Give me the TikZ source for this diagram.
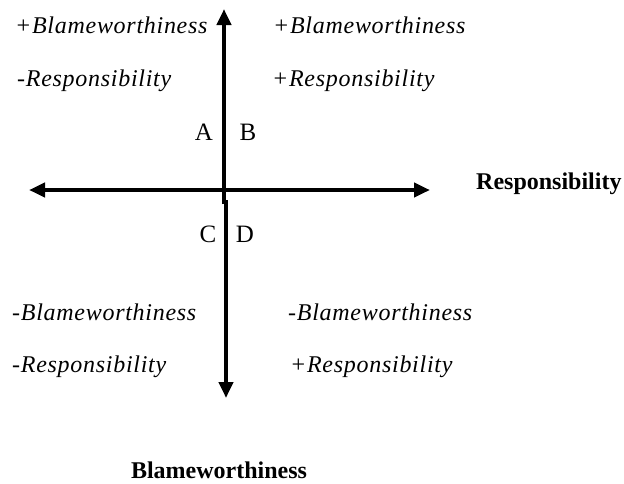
\documentclass[tikz,border=0pt]{standalone}
\usepackage{fontspec}
\setmainfont{Liberation Serif}
\newfontfamily\quadfont[LetterSpace=3]{Liberation Serif}
\usetikzlibrary{arrows.meta}

\begin{document}
\begin{tikzpicture}[x=1pt, y=-1pt,
  axis/.style={line width=4pt, -{Triangle[length=16pt, width=14pt]}},
  quad/.style={anchor=base west, inner sep=0pt, font=\fontsize{24}{28}\quadfont\itshape},
  letter/.style={anchor=base, inner sep=0pt, font=\fontsize{25}{30}\selectfont},
  title/.style={inner sep=0pt, font=\fontsize{24}{28}\selectfont\bfseries}]
  \useasboundingbox (0,0) rectangle (624,483);
  % axes
  \coordinate (west) at (29,190);
  \coordinate (east) at (430,190);
  \coordinate (upfoot) at (224,204);
  \coordinate (north) at (224,9);
  \coordinate (downfoot) at (226,200);
  \coordinate (south) at (226,398);
  \draw[axis, {Triangle[length=16pt, width=14pt]}-{Triangle[length=16pt, width=14pt]}] (west) -- (east);
  \draw[axis] (upfoot) -- (north);
  \draw[axis] (downfoot) -- (south);
  % quadrant letters
  \node[letter] (qa) at (204,140) {A};
  \node[letter] (qb) at (248,140) {B};
  \node[letter] (qc) at (208,242) {C};
  \node[letter] (qd) at (245,242) {D};
  % quadrant texts
  \node[quad] (ablame) at (15,33) {+Blameworthiness};
  \node[quad] (aresp) at (17,86) {-Responsibility};
  \node[quad] (bblame) at (273,33) {+Blameworthiness};
  \node[quad] (bresp) at (272,86) {+Responsibility};
  \node[quad] (cblame) at (12,320) {-Blameworthiness};
  \node[quad] (cresp) at (12,372) {-Responsibility};
  \node[quad] (dblame) at (288,320) {-Blameworthiness};
  \node[quad] (dresp) at (290,372) {+Responsibility};
  % axis names
  \node[title, anchor=base west] (resp) at (476,189) {Responsibility};
  \node[title, anchor=base] (blame) at (219,478) {Blameworthiness};
\end{tikzpicture}
\end{document}
